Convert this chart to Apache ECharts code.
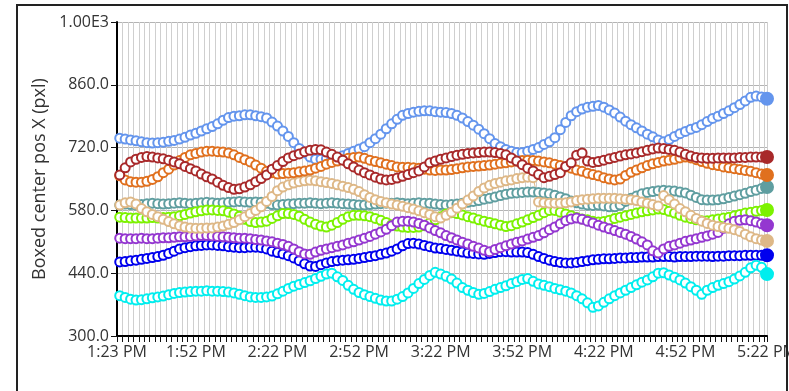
<!DOCTYPE html>
<html>
<head>
<meta charset="utf-8">
<title>Boxed center pos X</title>
<script src="https://cdn.jsdelivr.net/npm/echarts@6/dist/echarts.min.js"></script>
<style>
  html, body { margin: 0; padding: 0; background: #fff; overflow: hidden; }
  #frame { position: absolute; left: 16px; top: 4px; width: 772px; height: 420px; border: 2px solid #222; box-sizing: border-box; z-index: 2; pointer-events: none; }
  #chart { position: absolute; left: 0; top: 0; width: 789px; height: 391px; z-index: 1; }
</style>
</head>
<body>
<div id="chart"></div>
<div id="frame"></div>
<script>
// Time axis labels (minutes are counted from the first label)
const timeLabels = ['1:23 PM', '1:52 PM', '2:22 PM', '2:52 PM', '3:22 PM', '3:52 PM', '4:22 PM', '4:52 PM', '5:22 PM'];

// Value axis ticks and their printed form
const yTicks = [300, 440, 580, 720, 860, 1000];
const yTickLabels = ['300.0', '440.0', '580.0', '720.0', '860.0', '1.00E3'];

// One reading every two minutes, starting one minute after 1:23 PM
const sampleCount = 120;
const sampleMinutes = Array.from({ length: sampleCount }, (_, i) => 1 + 2 * i);

const cornflower = [
  741,739,737,735,733,731,730,731,732,734,
  736,739,743,748,752,757,762,767,773,781,
  787,790,791,793,793,791,789,786,777,768,
  757,745,731,718,708,699,694,694,695,696,
  698,702,707,712,717,722,731,740,750,762,
  773,783,792,796,799,801,802,802,800,799,
  798,796,792,786,778,770,761,751,740,729,
  722,716,712,709,709,712,716,720,727,733,
  742,760,776,791,800,806,810,812,814,810,
  804,797,788,779,771,764,757,750,744,737,
  733,738,745,751,756,761,765,771,778,785,
  790,796,802,809,816,824,832,835,833,829
];
const brown = [
  659,675,688,694,698,700,699,697,695,692,
  688,684,678,673,668,661,655,650,643,636,
  631,627,628,632,637,644,651,659,672,680,
  689,697,702,706,711,714,716,715,710,705,
  699,692,684,677,670,664,659,654,650,648,
  649,652,656,660,664,668,677,686,690,694,
  697,700,703,705,707,708,709,710,710,709,
  707,704,697,690,682,674,668,660,653,656,
  660,664,678,686,703,708,690,687,689,692,
  695,698,701,704,706,708,711,714,717,719,
  718,716,714,710,705,701,698,697,696,696,
  697,697,697,697,698,698,699,699,699,699
];
const orange = [
  657,648,644,643,643,645,649,655,664,672,
  681,691,698,704,707,710,712,712,711,710,
  708,704,698,693,688,681,674,667,664,661,
  662,663,664,666,668,670,674,678,683,687,
  690,693,696,698,699,696,692,689,686,683,
  680,677,676,676,675,674,672,670,669,670,
  670,671,673,675,677,678,679,680,681,683,
  685,686,688,690,691,692,691,690,688,686,
  683,680,677,674,670,667,663,660,657,653,
  650,648,650,658,665,670,675,680,684,687,
  690,692,694,697,699,697,693,689,685,682,
  680,677,675,673,671,669,667,664,661,659
];
const teal = [
  592,594,593,592,593,595,596,595,594,595,
  596,597,596,595,596,597,598,597,596,597,
  598,599,600,599,598,599,598,596,593,592,
  593,594,595,596,596,597,596,595,596,597,
  596,595,594,593,592,592,593,594,595,596,
  596,597,596,595,596,597,596,596,594,593,
  592,593,594,596,598,600,602,605,607,610,
  613,616,618,619,620,621,621,620,619,617,
  614,610,606,601,597,594,592,591,592,590,
  588,588,592,600,607,612,617,620,622,624,
  625,624,623,621,619,614,609,604,603,603,
  604,606,609,612,615,618,622,625,629,632
];
const tan = [
  592,597,599,594,584,577,571,566,560,555,
  550,546,543,541,540,540,541,541,543,545,
  549,553,559,566,573,580,588,600,611,624,
  632,637,641,644,646,647,646,644,642,640,
  637,634,631,627,622,615,609,604,600,597,
  594,592,589,586,583,579,575,571,566,563,
  569,576,585,594,603,612,622,630,636,640,
  643,646,648,651,653,654,653,599,597,596,
  596,596,597,599,602,604,605,606,607,607,
  607,607,606,605,604,602,599,596,593,590,
  613,604,594,584,577,569,562,556,551,547,
  544,542,540,537,533,527,521,517,514,512
];
const lime = [
  565,564,563,563,563,563,564,563,564,565,
  566,568,571,574,577,579,581,581,580,579,
  576,572,567,560,555,553,554,556,562,568,
  573,573,571,567,560,554,549,545,543,547,
  553,560,566,569,569,568,566,562,558,553,
  548,545,543,542,542,543,546,552,559,566,
  572,575,573,570,566,563,559,556,553,550,
  547,544,546,550,554,559,564,569,575,580,
  580,576,572,568,564,561,559,556,554,555,
  558,562,565,568,571,574,577,579,581,583,
  582,578,574,569,565,562,559,557,557,559,
  561,563,565,568,571,574,576,578,580,581
];
const purple = [
  518,517,517,517,518,517,517,518,519,519,
  520,521,521,522,523,524,524,523,522,521,
  520,519,518,518,517,515,514,512,510,507,
  504,500,494,488,483,482,487,491,494,497,
  500,503,507,510,514,518,522,527,532,538,
  546,554,556,556,554,551,547,541,535,530,
  524,519,514,509,505,500,496,491,488,493,
  497,501,505,509,512,516,520,524,530,537,
  543,550,557,561,563,560,556,552,547,543,
  539,535,531,527,522,516,510,503,490,485,
  494,500,503,507,511,514,517,520,523,527,
  531,540,550,556,558,559,557,554,550,547
];
const blue = [
  465,466,468,469,471,473,475,477,480,484,
  489,494,497,499,501,502,503,503,502,501,
  499,498,497,497,498,498,497,494,489,486,
  483,479,474,468,461,456,455,459,463,466,
  468,469,470,471,473,475,477,479,482,485,
  489,494,501,506,507,505,502,499,496,495,
  493,491,489,487,485,484,483,482,484,486,
  488,488,487,487,487,486,482,477,473,469,
  466,464,463,463,464,466,468,470,471,472,
  472,473,474,474,475,475,476,476,476,477,
  477,477,476,477,477,477,478,478,478,477,
  478,478,479,479,479,480,480,480,480,480
];
const cyan = [
  390,386,382,380,381,383,385,387,389,392,
  395,397,398,399,400,400,401,400,400,399,
  398,396,393,390,387,386,386,387,389,394,
  400,406,411,415,419,423,428,433,438,440,
  432,424,413,404,397,392,388,384,380,378,
  378,382,388,396,406,417,426,435,442,438,
  433,427,418,408,402,397,393,395,399,404,
  408,412,417,421,426,428,422,416,413,410,
  406,403,400,396,390,383,374,364,367,375,
  383,390,396,402,408,414,420,425,432,440,
  441,436,431,425,418,410,402,393,402,408,
  413,417,421,427,434,442,452,458,453,438
];

// Drawing order: later entries are painted on top
const seriesList = [
  { name: 'Teal',       color: '#5f9ea0', values: teal },
  { name: 'Lime',       color: '#7cf200', values: lime },
  { name: 'Blue',       color: '#0000ee', values: blue },
  { name: 'Purple',     color: '#9437d0', values: purple },
  { name: 'Tan',        color: '#deb887', values: tan },
  { name: 'Cornflower', color: '#6495ed', values: cornflower },
  { name: 'Orange',     color: '#e0701e', values: orange },
  { name: 'Brown',      color: '#a8292a', values: brown },
  { name: 'Cyan',       color: '#00eeee', values: cyan }
];

function clockToMinutes(label) {
  const m = label.match(/(\d+):(\d+)\s*(AM|PM)/);
  let h = parseInt(m[1], 10) % 12;
  if (m[3] === 'PM') h += 12;
  return h * 60 + parseInt(m[2], 10);
}
const originMinutes = clockToMinutes(timeLabels[0]);
const labelMinutes = timeLabels.map(l => clockToMinutes(l) - originMinutes);

const FONT = '"Open Sans", "DejaVu Sans", sans-serif';

const chart = echarts.init(document.getElementById('chart'), null, { renderer: 'canvas' });

chart.setOption({
  animation: false,
  backgroundColor: 'transparent',
  textStyle: { fontFamily: FONT },
  grid: {
    left: 117, right: 22, top: 22, bottom: 55,
    containLabel: false,
    outerBoundsMode: 'none'
  },
  xAxis: {
    type: 'value',
    min: 0,
    max: labelMinutes[labelMinutes.length - 1],
    interval: 2,
    axisLine: { show: true, onZero: false, lineStyle: { color: '#000', width: 2 } },
    axisTick: { show: true, length: 6, lineStyle: { color: '#111', width: 1 } },
    splitLine: { show: true, lineStyle: { color: '#cfcfcf', width: 1 } },
    axisLabel: {
      customValues: labelMinutes,
      formatter: v => timeLabels[labelMinutes.indexOf(Math.round(v))] || '',
      color: '#333',
      fontSize: 16,
      fontFamily: FONT,
      margin: 8,
      showMinLabel: true,
      showMaxLabel: true,
      hideOverlap: false
    }
  },
  yAxis: {
    type: 'value',
    min: yTicks[0],
    max: yTicks[yTicks.length - 1],
    interval: yTicks[1] - yTicks[0],
    name: 'Boxed center pos X (pxl)',
    nameLocation: 'middle',
    nameGap: 66,
    nameRotate: 90,
    nameTextStyle: { color: '#333', fontSize: 18, fontFamily: FONT },
    axisLine: { show: true, lineStyle: { color: '#000', width: 2 } },
    axisTick: { show: true, length: 6, lineStyle: { color: '#111', width: 1 } },
    splitLine: { show: true, lineStyle: { color: '#b4b4b4', width: 1 } },
    axisLabel: {
      formatter: v => {
        const i = yTicks.indexOf(Math.round(v));
        return i >= 0 ? yTickLabels[i] : '';
      },
      color: '#333',
      fontSize: 16,
      fontFamily: FONT,
      margin: 8
    }
  },
  series: seriesList.map(s => ({
    name: s.name,
    type: 'line',
    symbol: 'emptyCircle',
    symbolSize: 9,
    showAllSymbol: true,
    lineStyle: { color: s.color, width: 1 },
    itemStyle: { color: s.color, borderColor: s.color, borderWidth: 2 },
    emphasis: { disabled: true },
    data: s.values.map((v, i) => {
      if (i === s.values.length - 1) {
        return { value: [sampleMinutes[i], v], symbol: 'circle', symbolSize: 12 };
      }
      return [sampleMinutes[i], v];
    })
  }))
});
</script>
</body>
</html>
